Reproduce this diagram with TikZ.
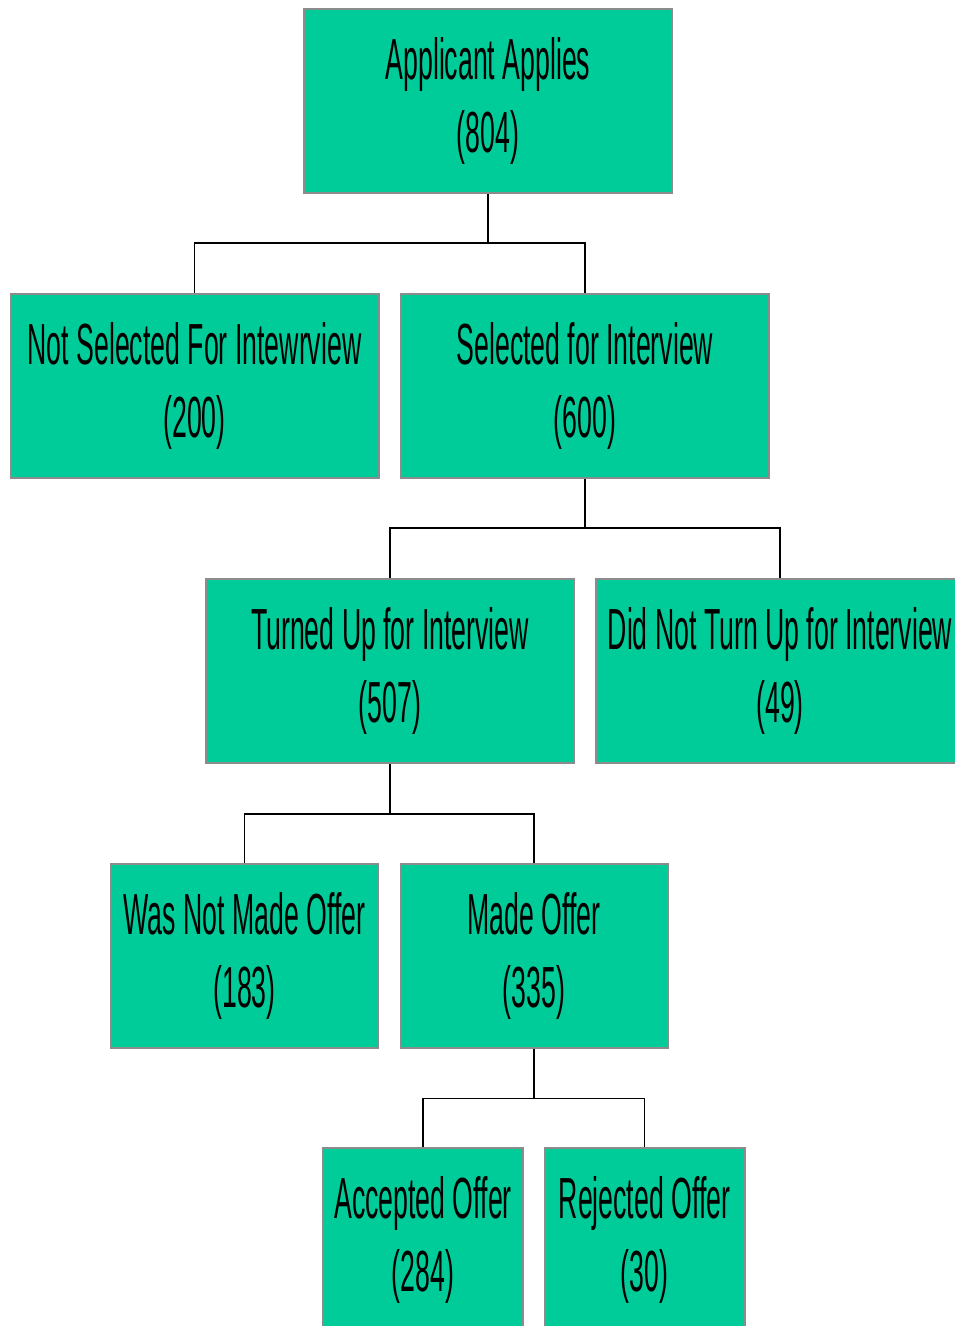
\documentclass[tikz,border=0pt]{standalone}
\usepackage{fontspec}
\newfontfamily\narrowsans{Liberation Sans}[FakeStretch=0.46]
\usetikzlibrary{positioning}
\definecolor{boxfill}{HTML}{00CC99}
\definecolor{boxline}{HTML}{8C8C8C}

\begin{document}
\begin{tikzpicture}[x=1pt,y=-1pt,on grid,
      box/.style={draw=boxline,line width=2pt,fill=boxfill,minimum width=368pt,minimum height=184pt,
        inner sep=0pt,align=center,font=\narrowsans\fontsize{58}{73}\selectfont},
      link/.style={draw=black,line width=1.5pt}]
      \useasboundingbox (0,0) rectangle (955,1326);
      \node[box] (apply) at (488,101) {Applicant Applies\\(804)};
      \node[box] (notsel) [below left=285pt and 293.5pt of apply] {Not Selected For Intewrview\\(200)};
      \node[box] (sel) [below right=285pt and 97pt of apply] {Selected for Interview\\(600)};
      \node[box] (turned) [below left=285pt and 195pt of sel] {Turned Up for Interview\\(507)};
      \node[box] (noshow) [below right=285pt and 195pt of sel] {Did Not Turn Up for Interview\\(49)};
      \node[box, minimum width=267pt] (nooffer) [below left=284.5pt and 145.5pt of turned] {Was Not Made Offer\\(183)};
      \node[box, minimum width=267pt] (offer) [below right=284.5pt and 144pt of turned] {Made Offer\\(335)};
      \node[box, minimum width=200pt] (accept) [below left=284.5pt and 111pt of offer] {Accepted Offer\\(284)};
      \node[box, minimum width=200pt] (reject) [below right=284.5pt and 110.5pt of offer] {Rejected Offer\\(30)};
      % tree links
      \draw[link] (apply.south) -- ++(0,49) coordinate (j1) -| (notsel.north);
      \draw[link] (j1) -| (sel.north);
      \draw[link] (sel.south) -- ++(0,49) coordinate (j2) -| (turned.north);
      \draw[link] (j2) -| (noshow.north);
      \draw[link] (turned.south) -- ++(0,50) coordinate (j3) -| (nooffer.north);
      \draw[link] (j3) -| (offer.north);
      \draw[link] (offer.south) -- ++(0,50) coordinate (j4) -| (accept.north);
      \draw[link] (j4) -| (reject.north);
    \end{tikzpicture}
\end{document}
